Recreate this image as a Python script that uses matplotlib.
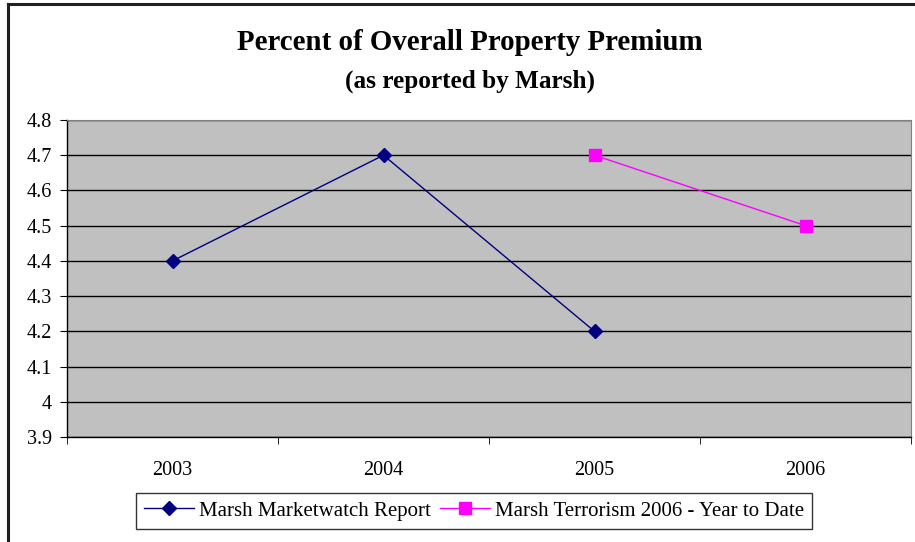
import matplotlib
matplotlib.use("Agg")
import matplotlib.pyplot as plt
from matplotlib.lines import Line2D

years = ["2003", "2004", "2005", "2006"]
marketwatch_x = [0, 1, 2]
marketwatch = [4.4, 4.7, 4.2]
terrorism_x = [2, 3]
terrorism = [4.7, 4.5]
y_ticks = [3.9, 4.0, 4.1, 4.2, 4.3, 4.4, 4.5, 4.6, 4.7, 4.8]
y_labels = ["3.9", "4", "4.1", "4.2", "4.3", "4.4", "4.5", "4.6", "4.7", "4.8"]

plt.rcParams["font.family"] = ["Liberation Serif", "DejaVu Serif"]

fig = plt.figure(figsize=(9.15, 5.42), dpi=100)

# outer chart border (only top and left visible in the crop)
fig.add_artist(Line2D([7.5 / 915, 7.5 / 915], [0, 1 - 4 / 542], color="#202020", lw=2.2,
                      transform=fig.transFigure))
fig.add_artist(Line2D([7.5 / 915, 1], [1 - 4 / 542, 1 - 4 / 542], color="#202020", lw=2.2,
                      transform=fig.transFigure))

ax = fig.add_axes([67 / 915, 105 / 542, 844 / 915, 317 / 542])
ax.set_facecolor("#C0C0C0")

ax.plot(marketwatch_x, marketwatch, color="#000080", lw=1.0, marker="D", ms=7,
        label="Marsh Marketwatch Report")
ax.plot(terrorism_x, terrorism, color="#FF00FF", lw=1.0, marker="s", ms=8,
        label="Marsh Terrorism 2006 - Year to Date")

ax.set_xlim(-0.5, 3.5)
ax.set_ylim(3.9, 4.8)
ax.set_yticks(y_ticks)
ax.set_yticklabels(y_labels)
ax.yaxis.grid(True, color="black", lw=1.0)
ax.set_axisbelow(True)

ax.set_xticks(range(len(years)))
ax.set_xticklabels(years)
ax.set_xticks([-0.5, 0.5, 1.5, 2.5, 3.5], minor=True)
ax.tick_params(axis="x", which="major", length=0, pad=17, labelsize=14.5)
ax.tick_params(axis="x", which="minor", length=5, direction="out", color="black")
ax.tick_params(axis="y", length=5, direction="out", pad=6, labelsize=14.5)

ax.spines["top"].set_color("#808080")
ax.spines["right"].set_color("#808080")
for s in ("left", "bottom"):
    ax.spines[s].set_color("black")
    ax.spines[s].set_linewidth(1.0)

fig.text(470 / 915, 1 - 43 / 542, "Percent of Overall Property Premium", ha="center",
         va="center", fontsize=20.8, fontweight="bold")
fig.text(470 / 915, 1 - 81 / 542, "(as reported by Marsh)", ha="center", va="center",
         fontsize=18.2, fontweight="bold")

leg = fig.legend(loc="center", bbox_to_anchor=(474 / 915, 1 - 511 / 542), ncol=2,
                 frameon=True, fancybox=False, edgecolor="black", fontsize=15,
                 handlelength=2.4, handletextpad=0.25, columnspacing=0.45,
                 borderpad=0.38, borderaxespad=0)
leg.get_frame().set_linewidth(1.0)

fig.savefig("out.png", dpi=100)
